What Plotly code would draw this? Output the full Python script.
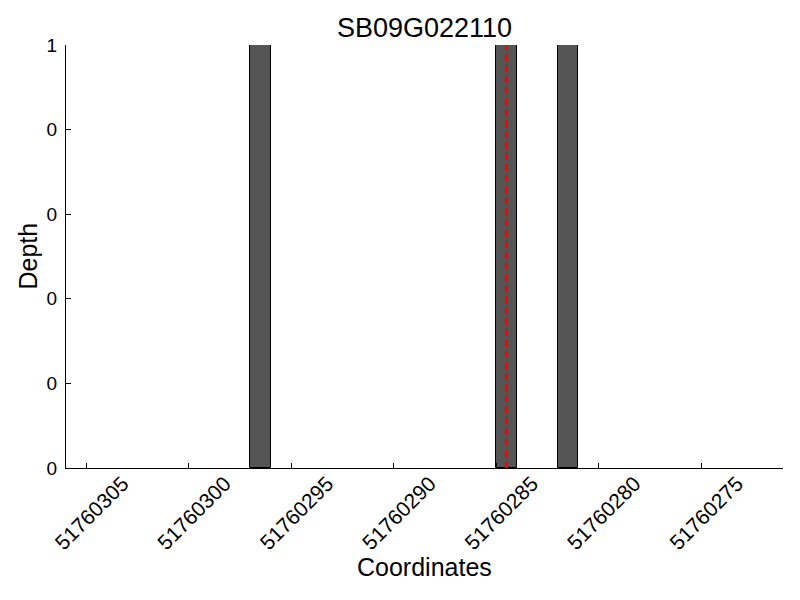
import plotly.graph_objects as go

# Data
coordinates = [51760296.5, 51760284.5, 51760281.5]
depth = [1, 1, 1]
marker_position = 51760284.5
title_text = "SB09G022110"
x_title = "Coordinates"
y_title = "Depth"
x_tick_vals = [51760305, 51760300, 51760295, 51760290, 51760285, 51760280, 51760275]
x_tick_text = [str(v) for v in x_tick_vals]
y_tick_vals = [0, 0.2, 0.4, 0.6, 0.8, 1]
y_tick_text = ["0", "0", "0", "0", "0", "1"]
x_range = [51760306, 51760271]

FONT = "Liberation Sans, Arial, sans-serif"
# the page body adds an 8px offset, so the figure is 8px smaller
W, H = 792, 592
ML, MR, MT, MB = 58, 17, 37, 132
PW, PH = W - ML - MR, H - MT - MB

fig = go.Figure()
fig.add_trace(go.Bar(
    x=coordinates, y=depth, width=1,
    marker=dict(color="#555555", line=dict(color="black", width=1)),
    showlegend=False,
))
fig.add_trace(go.Scatter(
    x=[marker_position, marker_position], y=[0, 1], mode="lines",
    line=dict(color="#ff0000", width=3, dash="7px,4px"),
    showlegend=False, hoverinfo="skip",
))

fig.update_layout(
    width=W, height=H,
    paper_bgcolor="white", plot_bgcolor="white",
    margin=dict(l=ML, r=MR, t=MT, b=MB, pad=0),
    font=dict(family=FONT, color="black"),
    title=dict(text=title_text, x=0.5, xref="paper", xanchor="center",
               y=1 - 20 / H, yref="container", yanchor="middle",
               font=dict(size=27, family=FONT, color="black")),
    bargap=0,
    annotations=[
        dict(text=x_title, xref="paper", yref="paper", x=0.5,
             y=-(567 - 8 - MT - PH) / PH, xanchor="center", yanchor="middle",
             showarrow=False, font=dict(size=25, family=FONT, color="black")),
        dict(text=y_title, xref="paper", yref="paper", x=-(ML - 19) / PW,
             y=0.5, xanchor="center", yanchor="middle", textangle=-90,
             showarrow=False, font=dict(size=25, family=FONT, color="black")),
    ],
)
fig.update_xaxes(
    range=x_range, tickmode="array", tickvals=x_tick_vals, ticktext=x_tick_text,
    tickangle=-45, ticks="inside", ticklen=5, tickcolor="black", tickwidth=1,
    showline=True, linecolor="black", linewidth=1.3, mirror=False,
    showgrid=False, zeroline=False, automargin=False,
    ticklabelshift=-36, ticklabelstandoff=-6,
    tickfont=dict(size=21, family=FONT, color="black"),
)
fig.update_yaxes(
    range=[0, 1], tickmode="array", tickvals=y_tick_vals, ticktext=y_tick_text,
    ticks="inside", ticklen=5, tickcolor="black", tickwidth=1,
    showline=True, linecolor="black", linewidth=1.3, mirror=False,
    showgrid=False, zeroline=False, automargin=False,
    ticklabelstandoff=4,
    tickfont=dict(size=19, family=FONT, color="black"),
)

fig.write_html("out.html")
